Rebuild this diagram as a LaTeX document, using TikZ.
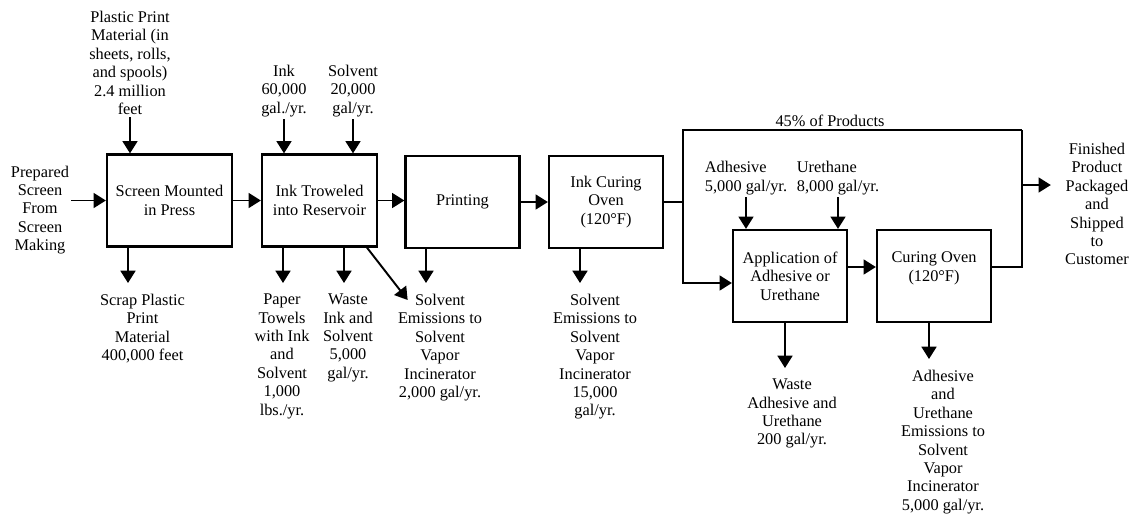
\documentclass[tikz,border=0pt]{standalone}
\usepackage{fontspec}
\setmainfont{Liberation Serif}
\usetikzlibrary{positioning, arrows.meta, calc}

\begin{document}
\begin{tikzpicture}[
    x=0.02cm, y=-0.02cm,
    >={Triangle[length=7pt, width=8.5pt]},
    font=\fontsize{9.3}{10.5}\selectfont,
    proc/.style={draw, line width=1.3pt, minimum width=2.28cm, minimum height=1.84cm, align=center, inner sep=2pt},
    inlbl/.style={align=center, anchor=south, inner ysep=1pt, inner xsep=0pt},
    outlbl/.style={align=center, anchor=north, inner ysep=6pt, inner xsep=0pt},
    flow/.style={->, line width=1.1pt},
    pipe/.style={line width=1.1pt}
]
\useasboundingbox (0,0) rectangle (1139,515);

% process boxes
\node[proc, minimum width=2.5cm] (mount) at (169.5,200.5) {Screen Mounted\\in Press};
\node[proc, minimum width=2.3cm] (trowel) at (319.5,200.5) {Ink Troweled\\into Reservoir};
\node[proc] (print)   at (462.5,202) {Printing};
\node[proc] (inkoven) at (606,202)   {Ink Curing\\Oven\\(120°F)};
\node[proc] (apply)   at (790,276)   {Application of\\Adhesive or\\Urethane};
\node[proc] (cure)    at (934,276)   {Curing Oven\\(120°F)\\\mbox{}};

% feed and product
\node[align=center, inner xsep=1pt, inner ysep=0pt] (prep) at (40,210) {Prepared\\Screen\\From\\Screen\\Making};
\node[align=center, inner xsep=8pt] (finish) at (1097,204) {Finished\\Product\\Packaged\\and\\Shipped\\to\\Customer};

% inputs
\node[inlbl] (plastic)  at (130,117) {Plastic Print\\Material (in\\sheets, rolls,\\and spools)\\2.4 million\\feet};
\node[inlbl] (ink)      at (284,119) {Ink\\60,000\\gal./yr.};
\node[inlbl] (solvent)  at (353,119) {Solvent\\20,000\\gal/yr.};
\node[inlbl, align=left] (adhesive) at (746,197) {Adhesive\\5,000 gal/yr.};
\node[inlbl, align=left] (urethane) at (838,197) {Urethane\\8,000 gal/yr.};

% outputs
\node[outlbl] (scrap)    at (142.5,283) {Scrap Plastic\\Print\\Material\\400,000 feet};
\node[outlbl] (towels)   at (282,283)   {Paper\\Towels\\with Ink\\and\\Solvent\\1,000\\lbs./yr.};
\node[outlbl] (wasteink) at (348,283)   {Waste\\Ink and\\Solvent\\5,000\\gal/yr.};
\node[outlbl] (printem)  at (440,283)   {Solvent\\Emissions to\\Solvent\\Vapor\\Incinerator\\2,000 gal/yr.};
\node[outlbl] (ovenem)   at (595,283)   {Solvent\\Emissions to\\Solvent\\Vapor\\Incinerator\\15,000\\gal/yr.};
\node[outlbl] (wasteadh) at (792,368)   {Waste\\Adhesive and\\Urethane\\200 gal/yr.};
\node[outlbl] (cureem)   at (943,359)   {Adhesive\\and\\Urethane\\Emissions to\\Solvent\\Vapor\\Incinerator\\5,000 gal/yr.};

% main line
\draw[flow] (prep.east |- mount.west) -- (mount.west);
\draw[flow] (mount.east) -- (trowel.west);
\draw[flow] (trowel.east) -- (trowel.east -| print.west);
\draw[flow] (print.east) -- (inkoven.west);

% split after ink curing
\coordinate (split) at ($(inkoven.east)+(19,0)$);
\coordinate (bypass) at (1022,130);
\coordinate (exit) at (1022,185);
\draw[pipe] (inkoven.east) -- (split) |- (bypass);
\node[anchor=south, inner sep=1.5pt] (share) at (830,130) {45\% of Products};
\draw[flow] (split) |- ([yshift=-0.14cm]apply.west);
\draw[flow] ([yshift=0.18cm]apply.east) -- ([yshift=0.18cm]cure.west);
\draw[pipe] ([yshift=0.18cm]cure.east) -| (bypass);
\draw[flow] (exit) -- (exit -| finish.west);

% inputs
\draw[flow] (plastic.south) -- (plastic.south |- mount.north);
\draw[flow] (ink.south) -- (ink.south |- trowel.north);
\draw[flow] (solvent.south) -- (solvent.south |- trowel.north);
\draw[flow] (adhesive.south) -- (adhesive.south |- apply.north);
\draw[flow] (urethane.south) -- (urethane.south |- apply.north);

% outputs
\draw[flow] ($(mount.south)+(-41.5,0)$) coordinate (o1) -- (o1 |- scrap.north);
\draw[flow] ($(trowel.south)+(-36.5,0)$) coordinate (o2) -- (o2 |- towels.north);
\draw[flow] ($(trowel.south)+(24.5,0)$) coordinate (o3) -- (o3 |- wasteink.north);
\draw[flow] ($(trowel.south)+(47.5,0)$) -- ($(printem.north west)+(10,17)$);
\draw[flow] ($(print.south)+(-36.5,0)$) coordinate (o4) -- (o4 |- printem.north);
\draw[flow] ($(inkoven.south)+(-26,0)$) coordinate (o5) -- (o5 |- ovenem.north);
\draw[flow] ($(apply.south)+(-5,0)$) coordinate (o6) -- (o6 |- wasteadh.north);
\draw[flow] ($(cure.south)+(-5,0)$) coordinate (o7) -- (o7 |- cureem.north);
\end{tikzpicture}
\end{document}
